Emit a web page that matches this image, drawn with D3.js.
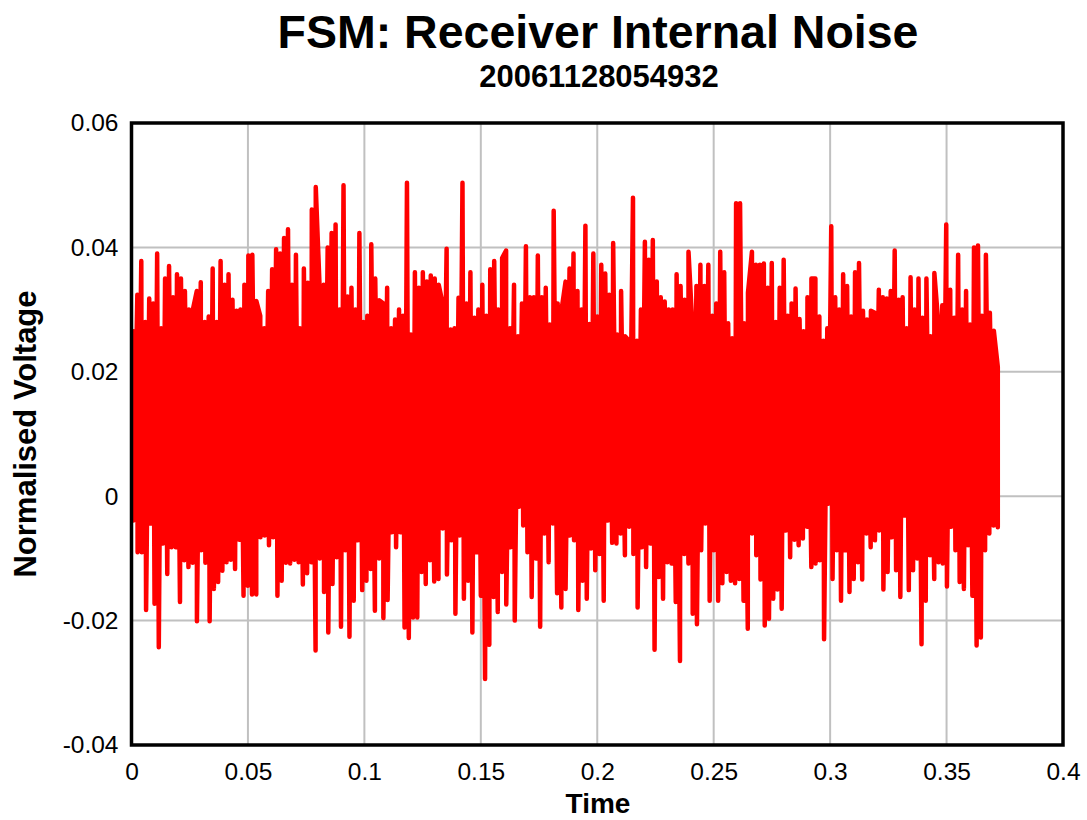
<!DOCTYPE html>
<html>
<head>
<meta charset="utf-8">
<script src="https://cdn.jsdelivr.net/npm/d3@7"></script>
<style>
  body { margin: 0; background: #ffffff; }
  text { font-family: "Liberation Sans", Arial, sans-serif; }
</style>
</head>
<body>
<div id="chart"></div>
<script>
// upper spikes of the trace, left to right
var peaks = [
  0.0265, 0.0324, 0.0378, 0.028, 0.0318, 0.031, 0.039, 0.027, 0.035, 0.037, 0.032, 0.0357,
  0.035, 0.033, 0.030, 0.030, 0.033, 0.0344, 0.028, 0.0289, 0.0366, 0.028, 0.0378, 0.034,
  0.0357, 0.0316, 0.0298, 0.030, 0.034, 0.0387, 0.0388, 0.0314, 0.029, 0.027, 0.033, 0.0365,
  0.0397, 0.039, 0.0415, 0.0429, 0.034, 0.0388, 0.027, 0.0366, 0.0343, 0.0461, 0.0497, 0.033,
  0.034, 0.040, 0.0423, 0.0437, 0.030, 0.050, 0.0321, 0.0335, 0.030, 0.0423, 0.028, 0.029,
  0.0405, 0.035, 0.0315, 0.031, 0.0335, 0.027, 0.0284, 0.030, 0.029, 0.0504, 0.026, 0.036,
  0.0335, 0.036, 0.0345, 0.0355, 0.035, 0.034, 0.031, 0.0398, 0.0268, 0.027, 0.0319, 0.0504,
  0.031, 0.036, 0.0287, 0.030, 0.034, 0.029, 0.0365, 0.0378, 0.030, 0.0383, 0.0395, 0.027,
  0.034, 0.0257, 0.031, 0.0402, 0.032, 0.032, 0.0387, 0.032, 0.0335, 0.0276, 0.0459, 0.031,
  0.030, 0.0345, 0.0366, 0.039, 0.033, 0.030, 0.0435, 0.0277, 0.039, 0.0289, 0.0372, 0.0358,
  0.0324, 0.0407, 0.026, 0.033, 0.0257, 0.025, 0.048, 0.025, 0.030, 0.0409, 0.038, 0.0412,
  0.0345, 0.032, 0.0313, 0.030, 0.030, 0.0357, 0.0338, 0.0316, 0.0393, 0.027, 0.0338, 0.0372,
  0.0338, 0.0372, 0.029, 0.031, 0.0393, 0.036, 0.0278, 0.0254, 0.0471, 0.0471, 0.0278, 0.0327,
  0.0393, 0.0372, 0.0372, 0.0374, 0.0335, 0.0375, 0.028, 0.0335, 0.038, 0.029, 0.031, 0.0334,
  0.0285, 0.0265, 0.032, 0.035, 0.035, 0.0289, 0.025, 0.027, 0.0434, 0.032, 0.030, 0.0357,
  0.0338, 0.0289, 0.036, 0.0375, 0.0298, 0.0284, 0.0298, 0.0295, 0.0332, 0.032, 0.0318, 0.033,
  0.0395, 0.0316, 0.032, 0.027, 0.0352, 0.030, 0.035, 0.0287, 0.035, 0.0257, 0.0359, 0.0277,
  0.0307, 0.0437, 0.0332, 0.0287, 0.0388, 0.030, 0.033, 0.0276, 0.040, 0.0403, 0.029, 0.0388,
  0.0295, 0.0266, 0.0208
];

// lower spikes of the trace, left to right
var troughs = [
  -0.0039, -0.009, -0.009, -0.0183, -0.0044, -0.0173, -0.0243, -0.0076, -0.0125, -0.0082,
  -0.0082, -0.017, -0.0103, -0.0114, -0.0107, -0.0201, -0.0087, -0.0107, -0.0201, -0.0149,
  -0.0138, -0.012, -0.0106, -0.0102, -0.0117, -0.007, -0.016, -0.0144, -0.0158, -0.0158,
  -0.0066, -0.0063, -0.0079, -0.0066, -0.016, -0.0136, -0.0107, -0.0108, -0.0102, -0.0106,
  -0.0142, -0.0124, -0.0106, -0.0248, -0.01, -0.0154, -0.0219, -0.0141, -0.0098, -0.021,
  -0.0087, -0.0226, -0.0168, -0.0071, -0.0151, -0.0136, -0.0117, -0.0184, -0.01, -0.0196,
  -0.0167, -0.0058, -0.0082, -0.0058, -0.0211, -0.0228, -0.0195,
  -0.0195, -0.0122, -0.0141, -0.0103, -0.0137, -0.0133, -0.0052, -0.0126, -0.0071, -0.0189,
  -0.0063, -0.0165, -0.0136, -0.0219, -0.009, -0.016, -0.0294, -0.0239, -0.0162, -0.0186,
  -0.0122, -0.0174, -0.0082, -0.02, -0.0017, -0.0047, -0.009, -0.0162, -0.01, -0.021,
  -0.006, -0.0106, -0.0044, -0.0156, -0.0179, -0.0149, -0.0063, -0.0071, -0.0183, -0.0136,
  -0.0165, -0.0084, -0.0119, -0.0093, -0.0168, -0.0039, -0.0075, -0.0076, -0.006, -0.0095,
  -0.0049, -0.0093, -0.0179, -0.0082, -0.0114, -0.0076, -0.0247, -0.013, -0.0165, -0.0106,
  -0.0108, -0.017, -0.0265, -0.0093, -0.0108, -0.0189, -0.0206, -0.0087, -0.0044, -0.0168,
  -0.0087,
  -0.0168, -0.014, -0.0122, -0.0136, -0.014, -0.0133, -0.0168, -0.0213, -0.006, -0.0095,
  -0.0134, -0.0208, -0.0197, -0.0165, -0.015, -0.0181, -0.0055, -0.0098, -0.007, -0.0079,
  -0.0068, -0.0049, -0.0114, -0.0108, -0.0103, -0.023, -0.0012, -0.0133, -0.0087, -0.0168,
  -0.0087, -0.0154, -0.0133, -0.0106, -0.0134, -0.006, -0.0082, -0.0071, -0.0055, -0.015,
  -0.0122, -0.0066, -0.0119, -0.0162, -0.0031, -0.0151, -0.0119, -0.01, -0.0238, -0.0168,
  -0.0095, -0.0133, -0.0106, -0.0108, -0.0145, -0.0049, -0.0087, -0.0138, -0.0149, -0.0079,
  -0.016, -0.024, -0.0227, -0.0087, -0.006, -0.0047, -0.005
];

var tStart = 0.0008; // first sample time
var tEnd = 0.372;    // last sample time

var xTicks = [0, 0.05, 0.1, 0.15, 0.2, 0.25, 0.3, 0.35, 0.4];
var yTicks = [-0.04, -0.02, 0, 0.02, 0.04, 0.06];

var titleText = "FSM: Receiver Internal Noise";
var subtitleText = "20061128054932";
var xLabel = "Time";
var yLabel = "Normalised Voltage";

var width = 1087, height = 820;
var margin = {top: 123, right: 24, bottom: 75, left: 131.5};
var plotW = width - margin.left - margin.right;
var plotH = height - margin.top - margin.bottom;

var svg = d3.select("#chart")
    .append("svg")
    .attr("width", width)
    .attr("height", height);

var x = d3.scaleLinear().domain([0, 0.4]).range([margin.left, margin.left + plotW]);
var y = d3.scaleLinear().domain([-0.04, 0.06]).range([margin.top + plotH, margin.top]);

// samples: spikes spread evenly over the record, then merged in time order
function spread(vals) {
  var step = (tEnd - tStart) / (vals.length - 1);
  return vals.map(function (v, i) { return {t: tStart + i * step, v: v}; });
}
var samples = spread(peaks).concat(spread(troughs))
    .sort(function (a, b) { return a.t - b.t; });

//GRID
svg.append("g")
    .selectAll("line.vgrid")
    .data(xTicks.slice(1, -1))
    .enter().append("line")
    .attr("x1", function (d) { return x(d); })
    .attr("x2", function (d) { return x(d); })
    .attr("y1", margin.top)
    .attr("y2", margin.top + plotH)
    .attr("stroke", "#c0c0c0")
    .attr("stroke-width", 2);

svg.append("g")
    .selectAll("line.hgrid")
    .data(yTicks.slice(1, -1))
    .enter().append("line")
    .attr("x1", margin.left)
    .attr("x2", margin.left + plotW)
    .attr("y1", function (d) { return y(d); })
    .attr("y2", function (d) { return y(d); })
    .attr("stroke", "#c0c0c0")
    .attr("stroke-width", 2);

//TRACE
var line = d3.line()
    .x(function (d) { return x(d.t); })
    .y(function (d) { return y(d.v); });

svg.append("path")
    .datum(samples)
    .attr("d", line)
    .attr("fill", "none")
    .attr("stroke", "#ff0000")
    .attr("stroke-width", 4.5)
    .attr("stroke-linejoin", "round")
    .attr("stroke-linecap", "round");

//FRAME
svg.append("rect")
    .attr("x", margin.left)
    .attr("y", margin.top)
    .attr("width", plotW)
    .attr("height", plotH)
    .attr("fill", "none")
    .attr("stroke", "#000000")
    .attr("stroke-width", 3.5);

//AXES
var fmt = function (d) { return String(+d.toFixed(2)); };

var xAxis = svg.append("g")
    .attr("transform", "translate(0," + (margin.top + plotH) + ")")
    .call(d3.axisBottom(x).tickValues(xTicks).tickSize(0).tickPadding(18).tickFormat(fmt));

var yAxis = svg.append("g")
    .attr("transform", "translate(" + margin.left + ",0)")
    .call(d3.axisLeft(y).tickValues(yTicks).tickSize(0).tickPadding(13).tickFormat(fmt));

[xAxis, yAxis].forEach(function (a) {
  a.select(".domain").remove();
  a.selectAll("text")
      .style("font-family", "'Liberation Sans', Arial, sans-serif")
      .style("font-size", "24.5px")
      .style("fill", "#000000");
});

//TITLES
svg.append("text")
    .attr("x", 598)
    .attr("y", 48)
    .attr("text-anchor", "middle")
    .style("font-size", "46.5px")
    .style("font-weight", "bold")
    .text(titleText);

svg.append("text")
    .attr("x", 599)
    .attr("y", 87)
    .attr("text-anchor", "middle")
    .style("font-size", "31px")
    .style("font-weight", "bold")
    .text(subtitleText);

svg.append("text")
    .attr("x", 598)
    .attr("y", 813)
    .attr("text-anchor", "middle")
    .style("font-size", "28px")
    .style("font-weight", "bold")
    .text(xLabel);

svg.append("text")
    .attr("transform", "translate(36,434) rotate(-90)")
    .attr("text-anchor", "middle")
    .style("font-size", "31px")
    .style("font-weight", "bold")
    .text(yLabel);
</script>
</body>
</html>
